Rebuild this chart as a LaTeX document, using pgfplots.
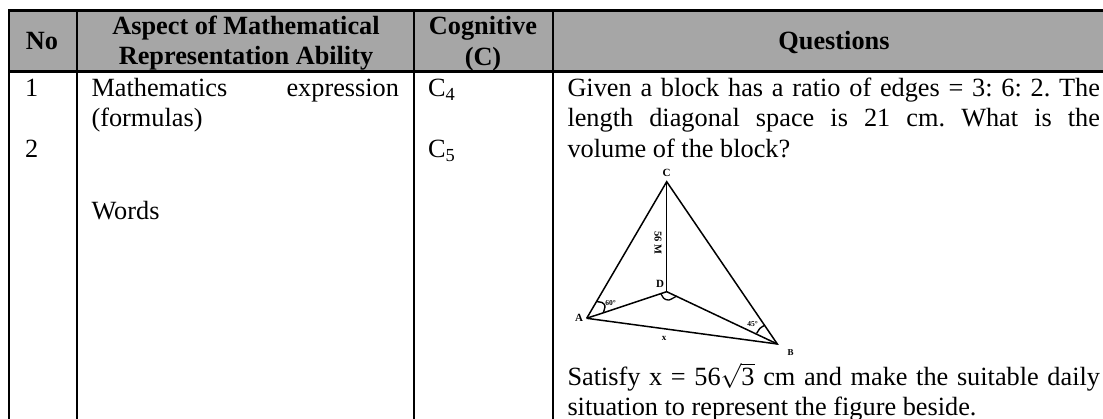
\documentclass[border=0pt]{standalone}
\usepackage{fontspec}
\setmainfont{Liberation Serif}
\usepackage{pgfplots}
\pgfplotsset{compat=1.18}
\definecolor{headGray}{HTML}{A6A6A6}
\tikzset{
  tight/.style={inner sep=0pt, outer sep=0pt, anchor=base west},
  mid/.style={inner sep=0pt, outer sep=0pt, anchor=base},
}
\newcommand{\bodyfont}{\frenchspacing\fontsize{26.3}{30}\selectfont}
\newcommand{\headfont}{\fontsize{26.3}{30}\selectfont\bfseries}
\newcommand{\figfont}{\fontsize{11}{12}\selectfont\bfseries}

\begin{document}
\begin{tikzpicture}
\begin{axis}[
    scale only axis, width=1103pt, height=419pt,
    xmin=0, xmax=1103, ymin=0, ymax=419,
    y dir=reverse, hide axis,
    every axis plot/.append style={no markers, black},
]
% header band
\addplot[draw=none, fill=headGray] coordinates {(9,10) (1103,10) (1103,71.3) (9,71.3)} -- cycle;
% rules
\addplot[line width=2.2pt] coordinates {(8.2,10.5) (1103,10.5)};
\addplot[line width=2.4pt] coordinates {(8.2,71.5) (1103,71.5)};
\addplot[line width=2.2pt] coordinates {(9.3,9.5) (9.3,419)};
\addplot[line width=2.2pt] coordinates {(76.7,9.5) (76.7,419)};
\addplot[line width=2.2pt] coordinates {(414,9.5) (414,419)};
\addplot[line width=2.2pt] coordinates {(552.8,9.5) (552.8,419)};
% figure: triangle
\addplot[line width=1.5pt] coordinates {(586.7,318.3) (666.7,181.7) (777.3,344) (586.7,318.3)};
\addplot[line width=1.5pt] coordinates {(666.7,181.7) (666.7,291.7)};
\addplot[line width=1.5pt] coordinates {(586.7,318.3) (666.7,291.7) (777.3,344)};
% angle marks
\addplot[line width=1.4pt, smooth] coordinates {(596.7,301.7) (602,302.5) (605,306) (603.3,312.7)};
\addplot[line width=1.4pt, smooth] coordinates {(756.7,333.3) (760,328.3) (764,325.7)};
\addplot[line width=1.3pt, smooth] coordinates {(660.7,293.3) (664,298.5) (669,300) (676.7,296)};
% header text
\node[mid] at (42,50) {\headfont No};
\node[mid] at (246,35) {\headfont Aspect of Mathematical};
\node[mid] at (246,65) {\headfont Representation Ability};
\node[mid] at (483,35) {\headfont Cognitive};
\node[mid] at (483,66) {\headfont (C)};
\node[mid] at (834,50) {\headfont Questions};
% body text
\node[tight] at (25,96.7) {\bodyfont 1};
\node[tight] at (25,157.5) {\bodyfont 2};
\node[tight] at (91.5,96.7) {\bodyfont\makebox[307.5pt][s]{Mathematics expression}};
\node[tight] at (91.5,127) {\bodyfont (formulas)};
\node[tight] at (91.5,220) {\bodyfont Words};
\node[tight] at (428,96.7) {\bodyfont C\textsubscript{4}};
\node[tight] at (428,157.5) {\bodyfont C\textsubscript{5}};
\node[tight] at (567.5,96.7) {\bodyfont\makebox[532.5pt][s]{Given a block has a ratio of edges = 3: 6: 2. The}};
\node[tight] at (567.5,127) {\bodyfont\makebox[532.5pt][s]{length diagonal space is 21 cm. What is the}};
\node[tight] at (567.5,157.5) {\bodyfont volume of the block?};
\node[tight] at (567.5,385.7) {\bodyfont\makebox[532.5pt][s]{Satisfy x = 56$\sqrt{\mbox{3}}$ cm and make the suitable daily}};
\node[tight] at (567.5,416) {\bodyfont situation to represent the figure beside.};
% figure labels
\node[anchor=center] at (666.7,172.7) {\figfont C};
\node[anchor=center] at (660,284) {\figfont D};
\node[anchor=center] at (579,318) {\figfont A};
\node[anchor=center] at (790.7,352.7) {\fontsize{9}{10}\selectfont\bfseries B};
\node[anchor=center] at (664,338) {\fontsize{9}{10}\selectfont\bfseries x};
\node[anchor=center, rotate=-90] at (658,243) {\fontsize{10.5}{11}\selectfont\bfseries 56 M};
\node[anchor=center] at (610.7,302.7) {\fontsize{7.5}{8}\selectfont\bfseries 60\textdegree};
\node[anchor=center] at (752.7,324) {\fontsize{7.5}{8}\selectfont\bfseries 45\textdegree};
\end{axis}
\pgfresetboundingbox
\path[use as bounding box] (0,0) rectangle (1103pt,419pt);
\end{tikzpicture}
\end{document}
